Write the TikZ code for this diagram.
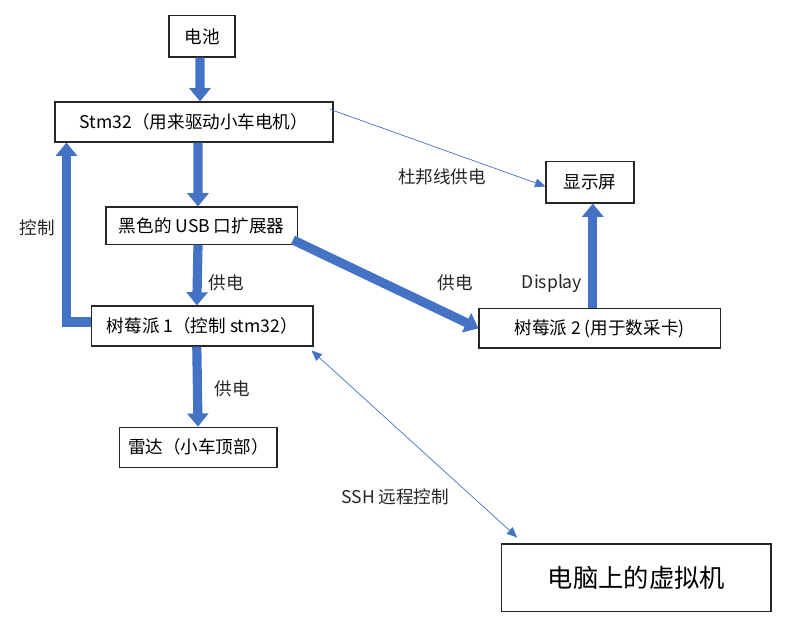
\documentclass[tikz,border=0pt]{standalone}
\usepackage{fontspec}
\setmainfont{Noto Sans CJK SC}
\usepackage{xcolor}
\definecolor{pptblue}{RGB}{68,114,196}
\definecolor{boxline}{RGB}{38,38,38}
\usepackage{tikz}
\usetikzlibrary{arrows.meta, positioning, calc}

\begin{document}
\begin{tikzpicture}[
    box/.style={draw=boxline, line width=0.8pt, fill=white, inner sep=0pt, font=\fontsize{12.5}{14}\selectfont},
    fat/.style={pptblue, line width=0.23cm, -{Triangle[width=0.52cm, length=0.33cm]}},
    slim/.style={pptblue, line width=0.5pt, -{Triangle[width=0.22cm, length=0.26cm]}},
    tag/.style={font=\fontsize{12.5}{14}\selectfont, text=black!85}
]
\useasboundingbox (0,0) rectangle (20,-15.9);

% --- boxes ---
\node[box, minimum width=1.65cm, minimum height=1.03cm] (battery) at (5.05,-0.91) {电池};
\node[box, minimum width=6.95cm, minimum height=1.0cm] (stm) at (4.85,-3.05) {Stm32（用来驱动小车电机）};
\node[box, minimum width=4.78cm, minimum height=0.93cm] (usb) at (5.04,-5.64) {黑色的 USB 口扩展器};
\node[box, minimum width=5.53cm, minimum height=1.0cm] (pione) at (5.06,-8.15) {树莓派 1（控制 stm32）};
\node[box, minimum width=3.93cm, minimum height=1.0cm] (radar) at (4.96,-11.18) {雷达（小车顶部）};
\node[box, minimum width=2.2cm, minimum height=1.03cm] (screen) at (14.75,-4.56) {显示屏};
\node[box, minimum width=6.03cm, minimum height=0.98cm] (pitwo) at (14.99,-8.21) {树莓派 2 (用于数采卡)};
\node[box, minimum width=6.73cm, minimum height=1.68cm, font=\fontsize{18}{20}\selectfont] (pc) at (15.91,-14.44) {电脑上的虚拟机};

% --- power chain ---
\draw[fat] ([xshift=-0.05cm]battery.south) -- ([xshift=0.15cm]stm.north);
\draw[fat] ([xshift=0.1cm]stm.south) -- ([xshift=-0.09cm]usb.north);
\draw[fat] ([xshift=-0.09cm]usb.south) -- ([xshift=-0.14cm]pione.north);
\draw[fat] ([xshift=-0.14cm]pione.south) -- ([xshift=-0.01cm]radar.north);
\draw[fat] ([xshift=-0.12cm,yshift=0.12cm]usb.south east) -- (pitwo.west);
\draw[fat] ([xshift=0.07cm]pitwo.north -| screen.south) -- ([xshift=0.07cm]screen.south);

% control loop back to stm32
\coordinate (loop) at ([xshift=0.3cm]stm.south west);
\draw[pptblue, line width=0.23cm, -{Triangle[width=0.52cm, length=0.33cm]}]
    ([yshift=0.1cm]pione.west) -| (loop);

% thin links
\draw[slim] ([xshift=-0.08cm,yshift=-0.2cm]stm.north east) -- ([yshift=-0.1cm]screen.west);
\draw[slim, {Triangle[width=0.22cm, length=0.26cm]}-{Triangle[width=0.22cm, length=0.26cm]}]
    ([xshift=-0.05cm,yshift=-0.1cm]pione.south east) -- ([xshift=0.4cm,yshift=0.15cm]pc.north west);

% --- labels ---
\node[tag] (lctrl) at (0.93,-5.7) {控制};
\node[tag] (lpow1) at (5.65,-7.08) {供电};
\node[tag] (lpow2) at (5.8,-9.73) {供电};
\node[tag] (ldupont) at (11.05,-4.43) {杜邦线供电};
\node[tag] (lpow3) at (11.38,-7.08) {供电};
\node[tag] (ldisp) at (13.8,-7.08) {Display};
\node[tag] (lssh) at (9.88,-12.43) {SSH 远程控制};

\end{tikzpicture}
\end{document}
